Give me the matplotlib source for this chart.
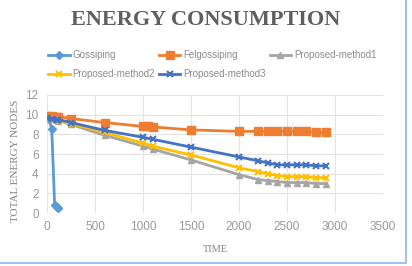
import matplotlib
matplotlib.use('Agg')
import matplotlib.pyplot as plt
from matplotlib.lines import Line2D

# data
timeGossip = [0, 20, 50, 80, 100, 120]
gossiping = [9.8, 9.6, 8.5, 0.8, 0.6, 0.5]

timeFel = [0, 50, 100, 120, 250, 600, 1000, 1050, 1100, 1500, 2000,
           2200, 2300, 2400, 2500, 2600, 2700, 2800, 2900]
felgossiping = [9.9, 9.9, 9.8, 9.8, 9.6, 9.2, 8.8, 8.8, 8.75, 8.45, 8.3,
                8.3, 8.3, 8.3, 8.3, 8.3, 8.3, 8.2, 8.2]

timeProp = [0, 50, 100, 120, 250, 600, 1000, 1100, 1500, 2000,
            2200, 2300, 2400, 2500, 2600, 2700, 2800, 2900]
method1 = [9.7, 9.6, 9.5, 9.4, 9.0, 7.9, 6.8, 6.5, 5.4, 3.9,
           3.4, 3.3, 3.2, 3.1, 3.1, 3.1, 3.0, 3.0]
method2 = [9.7, 9.6, 9.5, 9.4, 9.1, 8.2, 7.1, 6.8, 5.9, 4.6,
           4.2, 4.0, 3.8, 3.7, 3.7, 3.7, 3.6, 3.6]
method3 = [9.7, 9.6, 9.5, 9.5, 9.2, 8.4, 7.7, 7.5, 6.7, 5.7,
           5.3, 5.1, 4.9, 4.9, 4.9, 4.9, 4.8, 4.8]

labels = ['Gossiping', 'Felgossiping', 'Proposed-method1',
          'Proposed-method2', 'Proposed-method3']
colors = ['#5B9BD5', '#ED7D31', '#A5A5A5', '#FFC000', '#4472C4']

fig = plt.figure(figsize=(4.12, 2.66), dpi=100)
ax = fig.add_axes([0.114, 0.199, 0.816, 0.444])

h0, = ax.plot(timeGossip, gossiping, color=colors[0], marker='D', ms=4.5,
              lw=2, label=labels[0])
h1, = ax.plot(timeFel, felgossiping, color=colors[1], marker='s', ms=6,
              lw=2, label=labels[1])
h2, = ax.plot(timeProp, method1, color=colors[2], marker='^', ms=5,
              lw=2, label=labels[2])
h3, = ax.plot(timeProp, method2, color=colors[3], marker='x', ms=5, mew=1.5,
              lw=2, label=labels[3])
h4, = ax.plot(timeProp, method3, color=colors[4], marker='x', ms=5, mew=1.5,
              lw=2, label=labels[4])

ax.set_xlim(0, 3500)
ax.set_ylim(0, 12)
ax.set_xticks(range(0, 3501, 500))
ax.set_yticks(range(0, 13, 2))
ax.grid(color='#E3E3E3', lw=0.8)
ax.set_axisbelow(True)
for s in ax.spines.values():
    s.set_visible(False)
ax.tick_params(length=0, labelsize=8.5, labelcolor='#999999', pad=6)
for t in ax.get_xticklabels() + ax.get_yticklabels():
    t.set_fontfamily('Liberation Sans')

ax.set_xlabel('TIME', fontsize=7.5, family='Liberation Serif',
              color='#808080')
ax.xaxis.set_label_coords(0.5, -0.27)
ax.set_ylabel('TOTAL ENERGY NODES', fontsize=8, family='Liberation Serif',
              color='#808080')
ax.yaxis.set_label_coords(-0.08, 0.44)

fig.text(0.5, 0.925, 'ENERGY CONSUMPTION', ha='center', va='center',
         fontsize=16, fontweight='bold', family='Liberation Serif',
         color='#5F5F5F')

# column-major fill, so reorder to read row by row
order = [h0, h3, h1, h4, h2]
leg = fig.legend(order, [h.get_label() for h in order], loc='upper left',
                 bbox_to_anchor=(0.105, 0.83), ncol=3, frameon=False,
                 handlelength=2.2, columnspacing=0.4, labelspacing=0.95,
                 handletextpad=0.3, borderpad=0,
                 prop={'family': 'Liberation Sans', 'size': 7})
for t in leg.get_texts():
    t.set_color('#8C8C8C')

# blue frame edges visible at right and bottom
fig.add_artist(Line2D([0, 0.986], [0.011, 0.011], transform=fig.transFigure,
                      color='#9DC3E6', lw=1.5))
fig.add_artist(Line2D([0.986, 0.986], [0.011, 1], transform=fig.transFigure,
                      color='#9DC3E6', lw=1.5))

fig.savefig('out.png', dpi=100)
